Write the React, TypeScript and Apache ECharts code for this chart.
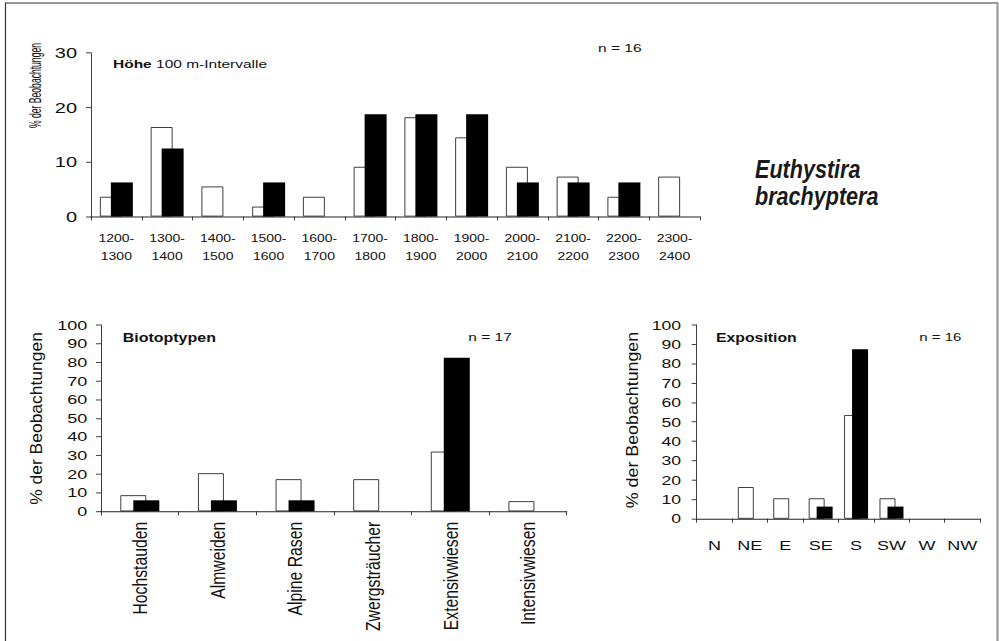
import React, { useEffect, useRef } from "react";
import * as echarts from "echarts";

// The figure is laid out in a taller canvas and squeezed vertically by SY.
const SY = 641 / 855;
const py = (v: number) => v / SY;

const FONT = '"Liberation Sans", Arial, Helvetica, sans-serif';
const INK = "#111";
const AXIS = "#222";

// Höhe (100 m-Intervalle)
const altitudeBands = [
  "1200-\n1300", "1300-\n1400", "1400-\n1500", "1500-\n1600",
  "1600-\n1700", "1700-\n1800", "1800-\n1900", "1900-\n2000",
  "2000-\n2100", "2100-\n2200", "2200-\n2300", "2300-\n2400",
];
const altitudeAll = [3.6, 16.4, 5.5, 1.8, 3.6, 9.1, 18.2, 14.5, 9.1, 7.3, 3.6, 7.3];
const altitudeSpecies = [6.25, 12.5, 0, 6.25, 0, 18.75, 18.75, 18.75, 6.25, 6.25, 6.25, 0];
const altitudeTicks = [0, 10, 20, 30];

// Biotoptypen
const biotopeTypes = ["Hochstauden", "Almweiden", "Alpine Rasen", "Zwergsträucher", "Extensivwiesen", "Intensivwiesen"];
const biotopeAll = [8.6, 20.4, 17.2, 17.2, 32.0, 5.4];
const biotopeSpecies = [5.9, 5.9, 5.9, 0, 82.4, 0];

// Exposition
const aspects = ["N", "NE", "E", "SE", "S", "SW", "W", "NW"];
const aspectAll = [0, 16.3, 10.5, 10.5, 53.5, 10.5, 0, 0];
const aspectSpecies = [0, 0, 0, 6.25, 87.5, 6.25, 0, 0];

const percentTicks = [0, 10, 20, 30, 40, 50, 60, 70, 80, 90, 100];

const bars = (vals: number[]) => vals.map((v) => (v === 0 ? null : v));

function valueAxis(grid: number, ticks: number[], fontSize: number, margin: number) {
  return {
    type: "value",
    gridIndex: grid,
    min: ticks[0],
    max: ticks[ticks.length - 1],
    interval: ticks[1] - ticks[0],
    axisLine: { show: true, lineStyle: { color: AXIS, width: 1 } },
    axisTick: { show: true, length: 5, lineStyle: { color: AXIS, width: 1 } },
    splitLine: { show: false },
    axisLabel: { fontSize, margin, color: INK, fontFamily: FONT },
  };
}

function categoryAxis(grid: number, data: string[], label: any) {
  return {
    type: "category",
    gridIndex: grid,
    data,
    axisLine: { show: true, lineStyle: { color: AXIS, width: 1 / SY } },
    axisTick: { show: true, length: 4 / SY, lineStyle: { color: AXIS, width: 1 } },
    splitLine: { show: false },
    axisLabel: { interval: 0, color: INK, fontFamily: FONT, ...label },
  };
}

function pairSeries(axisIndex: number, all: number[], species: number[], width: number) {
  return [
    {
      type: "bar",
      name: "alle Aufnahmen",
      xAxisIndex: axisIndex,
      yAxisIndex: axisIndex,
      data: bars(all),
      barWidth: width,
      barGap: "-50%",
      itemStyle: { color: "#fff", borderColor: "#222", borderWidth: 1 },
    },
    {
      type: "bar",
      name: "Euthystira brachyptera",
      xAxisIndex: axisIndex,
      yAxisIndex: axisIndex,
      data: bars(species),
      barWidth: width,
      barGap: "-50%",
      itemStyle: { color: "#000" },
    },
  ];
}

function plainText(x: number, y: number, text: string, fontSize: number, bold = false, extra: any = {}) {
  return {
    type: "text",
    x,
    y: py(y),
    style: {
      text,
      fontSize,
      fontWeight: bold ? "bold" : "normal",
      fontFamily: FONT,
      fill: INK,
      align: "left",
      textAlign: "left",
      verticalAlign: "middle",
      textVerticalAlign: "middle",
      ...extra,
    },
  };
}

function yTitle(x: number, y: number, fontSize: number, stretch: number) {
  return {
    type: "text",
    x,
    y: py(y),
    rotation: Math.PI / 2,
    scaleX: stretch,
    style: {
      text: "% der Beobachtungen",
      fontSize,
      fontFamily: FONT,
      fill: INK,
      align: "center",
      textAlign: "center",
      verticalAlign: "middle",
      textVerticalAlign: "middle",
    },
  };
}

export default function App() {
  const ref = useRef<HTMLDivElement>(null);

  useEffect(() => {
    if (!ref.current) return;
    const chart = echarts.init(ref.current, null, { renderer: "svg" });

    const option: any = {
      animation: false,
      backgroundColor: "#fff",
      textStyle: { fontFamily: FONT },
      grid: [
        { left: 91, top: py(53), width: 609, height: py(216.5) - py(53), outerBoundsMode: "none" },
        { left: 101, top: py(325), width: 465.7, height: py(511.3) - py(325), outerBoundsMode: "none" },
        { left: 696.7, top: py(325), width: 283.3, height: py(518.7) - py(325), outerBoundsMode: "none" },
      ],
      xAxis: [
        categoryAxis(0, altitudeBands, { fontSize: 14, lineHeight: 24, margin: 17.7 }),
        categoryAxis(1, biotopeTypes, { fontSize: 21, rotate: 90, margin: 14 }),
        categoryAxis(2, aspects, { fontSize: 18, margin: 27 }),
      ],
      yAxis: [
        valueAxis(0, altitudeTicks, 20, 14),
        valueAxis(1, percentTicks, 18, 13.7),
        valueAxis(2, percentTicks, 17.6, 15.7),
      ],
      series: [
        ...pairSeries(0, altitudeAll, altitudeSpecies, 22),
        ...pairSeries(1, biotopeAll, biotopeSpecies, 26),
        ...pairSeries(2, aspectAll, aspectSpecies, 16),
      ],
      graphic: [
        {
          type: "rect",
          shape: { x: 5.5, y: py(3), width: 992, height: py(720) },
          style: { fill: "none", stroke: "#333", lineWidth: 1.2 },
          silent: true,
        },
        {
          type: "line",
          shape: { x1: 997.5, y1: py(3), x2: 997.5, y2: py(720) },
          style: { stroke: "#9a9a9a", lineWidth: 2 },
          silent: true,
        },
        plainText(113, 64, "{b|Höhe} 100 m-Intervalle", 15.5, false, {
          rich: { b: { fontWeight: "bold", fontSize: 15.5, fontFamily: FONT, fill: INK } },
        }),
        plainText(598, 48, "n = 16", 15.5),
        plainText(122.7, 337.3, "Biotoptypen", 16, true),
        plainText(468.3, 337.3, "n = 17", 15.5),
        plainText(716, 337.3, "Exposition", 15.8, true),
        plainText(919.3, 337.3, "n = 16", 15),
        {
          type: "text",
          x: 755,
          y: py(155),
          scaleX: 0.83,
          scaleY: 1 / SY,
          style: {
            text: "Euthystira\nbrachyptera",
            fontSize: 26,
            lineHeight: 27,
            fontStyle: "italic",
            fontWeight: "bold",
            fontFamily: '"Liberation Sans Narrow", "Liberation Sans", sans-serif',
            fill: "#1a1a1a",
            align: "left",
            textAlign: "left",
            verticalAlign: "top",
            textVerticalAlign: "top",
          },
        },
        yTitle(35, 85.5, 17, 0.674),
        yTitle(36, 418.5, 17, 1.37),
        yTitle(632.5, 420, 17, 1.4),
      ],
    };

    chart.setOption(option);
    return () => chart.dispose();
  }, []);

  return (
    <div
      style={{
        position: "fixed",
        left: 0,
        top: 0,
        width: 999,
        height: 641,
        overflow: "hidden",
        background: "#fff",
      }}
    >
      <div
        ref={ref}
        style={{
          width: 999,
          height: 855,
          transform: `scaleY(${SY})`,
          transformOrigin: "0 0",
        }}
      />
    </div>
  );
}
